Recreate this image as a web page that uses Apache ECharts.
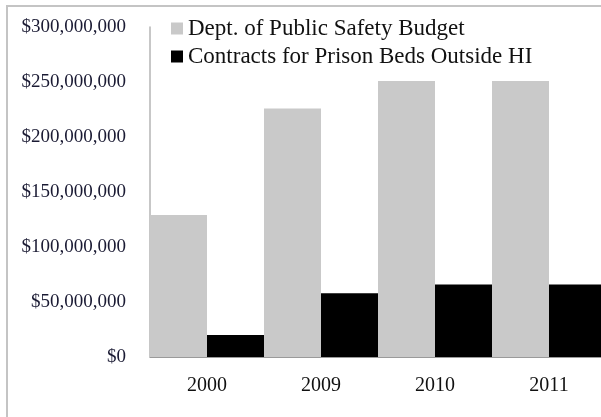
<!DOCTYPE html>
<html>
<head>
<meta charset="utf-8">
<script src="https://cdn.jsdelivr.net/npm/echarts@6/dist/echarts.min.js"></script>
<style>
  html, body { margin: 0; padding: 0; width: 601px; height: 417px; overflow: hidden; background: #fff; }
  #frame { position: absolute; left: 6px; top: 5px; width: 700px; height: 500px; border-left: 2px solid #c4c4c4; border-top: 2px solid #c4c4c4; }
  #chart { position: absolute; left: 0; top: 0; width: 620px; height: 417px; }
</style>
</head>
<body>
<div id="frame"></div>
<div id="chart"></div>
<script>
const years = ['2000', '2009', '2010', '2011']
const budget = [129000000, 226000000, 251000000, 251000000]
const contracts = [20000000, 58000000, 66000000, 66000000]
const seriesNames = ['Dept. of Public Safety Budget', 'Contracts for Prison Beds Outside HI']

const serif = 'Liberation Serif, Times New Roman, serif'

const formatMoney = (value) => {
  return '$' + value.toString().replace(/\B(?=(\d{3})+(?!\d))/g, ',')
}

const myChart = echarts.init(document.getElementById('chart'))

const option = {
  animation: false,
  legend: {
    orient: 'vertical',
    left: 166,
    top: 12,
    itemGap: 5,
    itemWidth: 12,
    itemHeight: 12,
    icon: 'rect',
    textStyle: { fontFamily: serif, fontSize: 23, color: '#111' },
    data: seriesNames
  },
  grid: {
    left: 150,
    top: 27,
    width: 456,
    height: 330
  },
  xAxis: {
    type: 'category',
    data: years,
    axisLine: { lineStyle: { color: '#9a9a9a', width: 1 } },
    axisTick: { show: false },
    axisLabel: { fontFamily: serif, fontSize: 20, color: '#111', margin: 19 }
  },
  yAxis: {
    type: 'value',
    min: 0,
    max: 300000000,
    interval: 50000000,
    axisLine: { show: true, lineStyle: { color: '#b4b4b4', width: 1.5 } },
    axisTick: { show: false },
    splitLine: { show: false },
    axisLabel: { fontFamily: serif, fontSize: 19, color: '#1a1a33', margin: 24, formatter: formatMoney }
  },
  series: [
    {
      name: seriesNames[0],
      type: 'bar',
      data: budget,
      barGap: '0%',
      barCategoryGap: '0%',
      itemStyle: { color: '#c9c9c9' }
    },
    {
      name: seriesNames[1],
      type: 'bar',
      data: contracts,
      barGap: '0%',
      barCategoryGap: '0%',
      itemStyle: { color: '#000000' }
    }
  ]
}

myChart.setOption(option)
</script>
</body>
</html>
